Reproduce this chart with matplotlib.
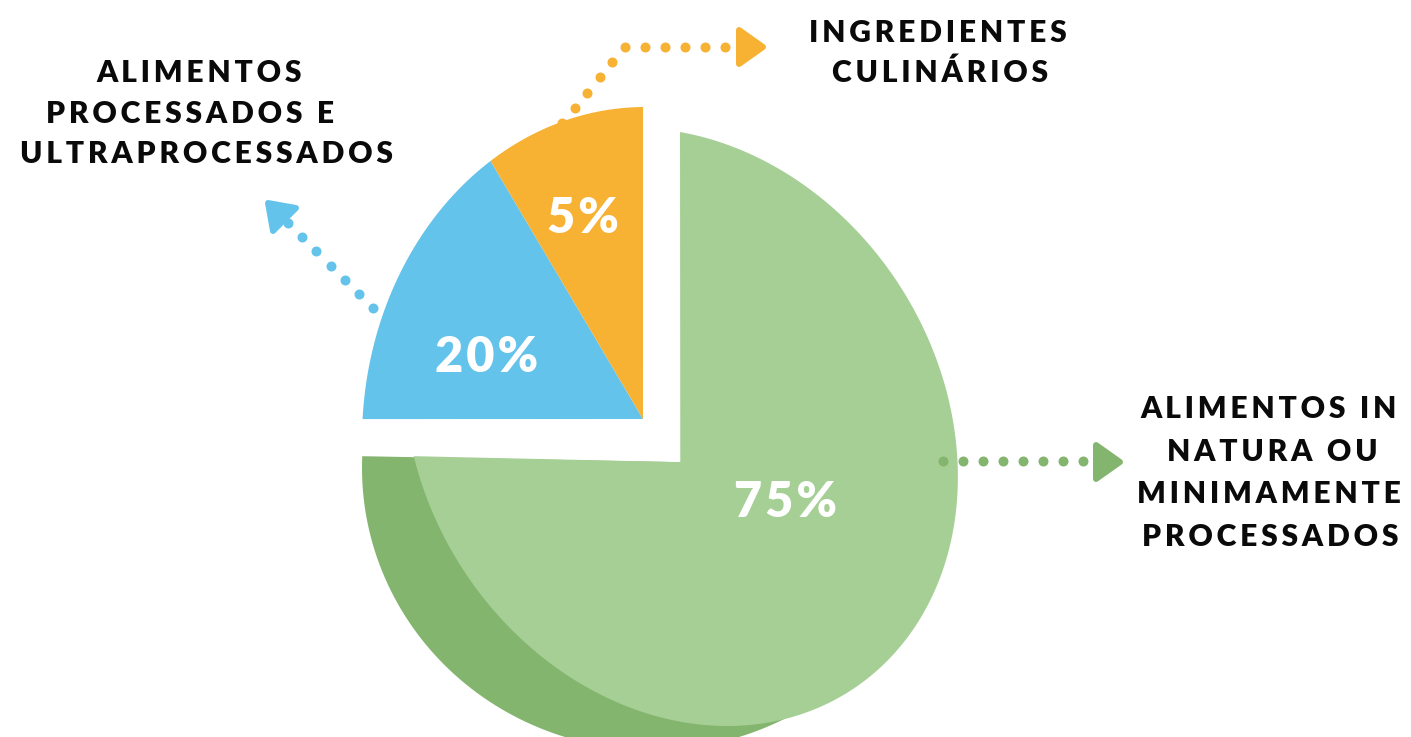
import numpy as np
import matplotlib
matplotlib.use('Agg')
import matplotlib.pyplot as plt
from matplotlib.markers import MarkerStyle
from matplotlib.transforms import Affine2D

# Dados do gráfico
categorias = [
    ['ALIMENTOS IN', 'NATURA OU', 'MINIMAMENTE', 'PROCESSADOS'],
    ['ALIMENTOS', 'PROCESSADOS E', 'ULTRAPROCESSADOS'],
    ['INGREDIENTES', 'CULINÁRIOS'],
]
percentuais = ['75%', '20%', '5%']
# tamanho das fatias como aparecem no desenho (a arte não segue os rótulos à risca)
fatias = [75, 15.5, 9.5]

cores = ['#A6CF95', '#63C3EB', '#F7B133']
cor_sombra = '#84B56E'
cor_setas = ['#84B56E', '#63C3EB', '#F7B133']

fonte = ['Lato', 'DejaVu Sans']


def espacado(txt, n=1):
    # matplotlib não tem letter-spacing: coloca espaços finos entre as letras
    return ('\u200a' * n).join(txt)


def elipse(phi, cx, cy, rx, ry, s=0.0):
    t = np.radians(phi)
    return cx + rx * np.cos(t) - s * np.sin(t), cy - ry * np.sin(t)


fig = plt.figure(figsize=(14.11, 7.37), dpi=100)
ax = fig.add_axes([0, 0, 1, 1])

# o matplotlib calcula as fatias (ângulos e deslocamento) em coordenadas unitárias
wedges, _ = ax.pie(fatias, startangle=90, counterclock=False,
                   explode=[0.185, 0, 0], labeldistance=None)

ax.set_aspect('auto')
ax.set_xlim(0, 1411)
ax.set_ylim(737, 0)
ax.axis('off')

# depois cada fatia é projetada na "pizza 3D" da figura (em pixels)
centro = (643, 419)
escala = (285, 330)
faces = [
    dict(el=(681, 427, 273, 299, 46.2), th0=-180, ph0=-174.4, k=255 / 270),
    dict(el=(645, 440, 283, 333, 0.0), th0=-270, ph0=90.4, k=86 / 90),
    dict(el=(645, 440, 283, 333, 0.0), th0=-270, ph0=90.4, k=86 / 90),
]
sombra = (652, 468, 290, 282, 0.0)

vertices = []
for w in wedges:
    vertices.append((centro[0] + escala[0] * w.center[0],
                     centro[1] - escala[1] * w.center[1]))

# lateral escura da fatia verde
phi_s = np.linspace(177.6, 320, 200)
sx, sy = elipse(phi_s, *sombra)
ax.fill(np.r_[vertices[0][0], sx], np.r_[vertices[0][1], sy],
        color=cor_sombra, lw=0, zorder=1)

for w, f, cor, (vx, vy) in zip(wedges, faces, cores, vertices):
    phi = f['ph0'] + (np.linspace(w.theta1, w.theta2, 300) - f['th0']) * f['k']
    ex, ey = elipse(phi, *f['el'])
    ax.fill(np.r_[vx, ex], np.r_[vy, ey], color=cor, lw=0, zorder=2)
    w.remove()

# rótulos de porcentagem
pos_pct = [(786, 517), (487, 372), (583, 233)]
for txt, (x, y) in zip(percentuais, pos_pct):
    ax.text(x, y, espacado(txt), color='white', fontsize=35, fontweight='heavy',
            family=fonte, ha='center', va='baseline', zorder=5)

# nomes das categorias
pos_cat = [
    [(1269, 418), (1272, 461), (1269, 503), (1270, 546)],
    [(199, 82), (190, 123), (207, 163)],
    [(938, 42), (940, 82)],
]
for linhas, posicoes in zip(categorias, pos_cat):
    for linha, (x, y) in zip(linhas, posicoes):
        ax.text(x, y, espacado(linha, 2), color='#0a0a0a', fontsize=21.6,
                fontweight='heavy', family=fonte, ha='center', va='baseline')

# setas pontilhadas
pontos = [
    (np.arange(943, 1090, 20), np.full(8, 461)),
    (np.linspace(373, 288, 7), np.linspace(308, 223, 7)),
    (np.r_[np.linspace(562, 625, 6), np.arange(645, 726, 20)],
     np.r_[np.linspace(123, 47, 6), np.full(5, 47)]),
]
pontas = [(1108, 461.5, 0), (276, 211, 135), (751, 47, 0)]

for (px, py), (hx, hy, ang), cor in zip(pontos, pontas, cor_setas):
    ax.plot(px, py, 'o', ms=7.2, color=cor, mec='none', zorder=4)
    m = MarkerStyle('>', joinstyle='round',
                    transform=Affine2D().scale(0.727, 1).rotate_deg(ang))
    ax.plot([hx], [hy], marker=m, ms=23.8, color=cor, mec=cor, mew=4.3,
            ls='none', zorder=4)

fig.savefig('out.png', dpi=100, facecolor='white')
